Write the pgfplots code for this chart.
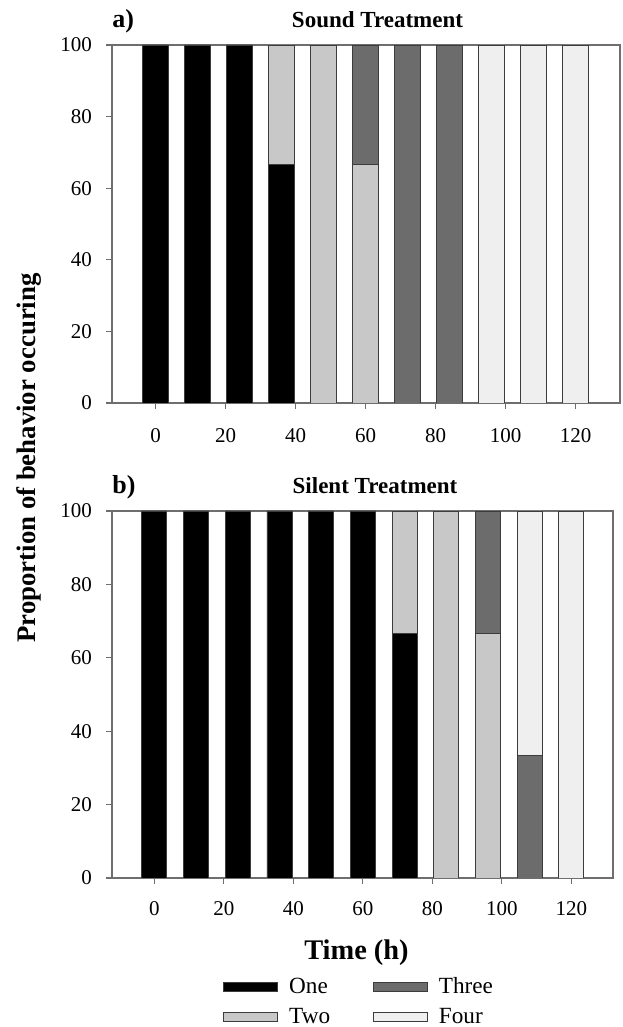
\documentclass[border=0pt]{standalone}
\usepackage{fontspec}
\setmainfont{Liberation Serif}
\usepackage{pgfplots}
\pgfplotsset{compat=1.18}

\definecolor{catone}{RGB}{0,0,0}
\definecolor{cattwo}{RGB}{200,200,200}
\definecolor{catthree}{RGB}{108,108,108}
\definecolor{catfour}{RGB}{239,239,239}
\definecolor{barline}{RGB}{60,60,60}
\definecolor{framegray}{RGB}{110,110,110}

\pgfplotsset{
  panel/.style={
    scale only axis,
    ybar stacked,
    ymin=0, ymax=100,
    xtick={0,20,...,120}, ytick={0,20,...,100},
    tick align=outside, xtick pos=left, ytick pos=left,
    major tick length=3pt,
    tick style={framegray, line width=0.6pt},
    axis line style={framegray, line width=0.8pt},
    tick label style={font=\fontsize{10.5}{12}\selectfont},
    yticklabel style={xshift=-3.5pt},
    /pgf/number format/assume math mode=true,
    legend image code/.code={\draw[#1] (0pt,-2.25pt) rectangle (27pt,2.25pt); \path (30.5pt,0pt);},
  },
}

\begin{document}
\begin{tikzpicture}
\useasboundingbox (0,0) rectangle (311pt,513.5pt);

% a) sound treatment
\begin{axis}[panel, at={(56pt,312pt)}, anchor=south west,
  width=254pt, height=179pt, xmin=-12.5, xmax=132.7, bar width=7.4,
  xticklabel style={yshift=-6pt}]
\addplot[draw=barline, fill=catone] coordinates {(0,100) (12,100) (24,100) (36,66.7) (48,0) (60,0) (72,0) (84,0) (96,0) (108,0) (120,0)};
\addplot[draw=barline, fill=cattwo] coordinates {(0,0) (12,0) (24,0) (36,33.3) (48,100) (60,66.7) (72,0) (84,0) (96,0) (108,0) (120,0)};
\addplot[draw=barline, fill=catthree] coordinates {(0,0) (12,0) (24,0) (36,0) (48,0) (60,33.3) (72,100) (84,100) (96,0) (108,0) (120,0)};
\addplot[draw=barline, fill=catfour] coordinates {(0,0) (12,0) (24,0) (36,0) (48,0) (60,0) (72,0) (84,0) (96,100) (108,100) (120,100)};
\end{axis}

% b) silent treatment
\begin{axis}[panel, at={(56pt,74.5pt)}, anchor=south west,
  width=250.5pt, height=183.5pt, xmin=-12.2, xmax=132, bar width=7.2,
  xticklabel style={yshift=-5pt},
  legend columns=2, transpose legend, legend cell align=left,
  legend style={at={(axis description cs:0.2216,-0.26)}, anchor=north west,
    draw=none, fill=none, inner sep=0pt, row sep=1.5pt,
    font=\fontsize{11.6}{13}\selectfont,
    /tikz/every even column/.append style={column sep=19.5pt}}]
\addplot[draw=barline, fill=catone] coordinates {(0,100) (12,100) (24,100) (36,100) (48,100) (60,100) (72,66.7) (84,0) (96,0) (108,0) (120,0)};
\addlegendentry{One}
\addplot[draw=barline, fill=cattwo] coordinates {(0,0) (12,0) (24,0) (36,0) (48,0) (60,0) (72,33.3) (84,100) (96,66.7) (108,0) (120,0)};
\addlegendentry{Two}
\addplot[draw=barline, fill=catthree] coordinates {(0,0) (12,0) (24,0) (36,0) (48,0) (60,0) (72,0) (84,0) (96,33.3) (108,33.3) (120,0)};
\addlegendentry{Three}
\addplot[draw=barline, fill=catfour] coordinates {(0,0) (12,0) (24,0) (36,0) (48,0) (60,0) (72,0) (84,0) (96,0) (108,66.7) (120,100)};
\addlegendentry{Four}
\end{axis}

\node[anchor=base west, inner sep=0pt, font=\bfseries\fontsize{13}{15}\selectfont] at (56pt,499.5pt) {a)};
\node[anchor=base, inner sep=0pt, font=\bfseries\fontsize{11.5}{14}\selectfont] at (188.75pt,499.5pt) {Sound Treatment};
\node[anchor=base west, inner sep=0pt, font=\bfseries\fontsize{13}{15}\selectfont] at (56pt,266.5pt) {b)};
\node[anchor=base, inner sep=0pt, font=\bfseries\fontsize{11.5}{14}\selectfont] at (187.5pt,266.5pt) {Silent Treatment};
\node[rotate=90, inner sep=0pt, font=\bfseries\fontsize{13.4}{16}\selectfont] at (14.5pt,284.5pt) {Proportion of behavior occuring};
\node[anchor=base, inner sep=0pt, font=\bfseries\fontsize{14.2}{17}\selectfont] at (178.25pt,33.5pt) {Time (h)};
\end{tikzpicture}
\end{document}
